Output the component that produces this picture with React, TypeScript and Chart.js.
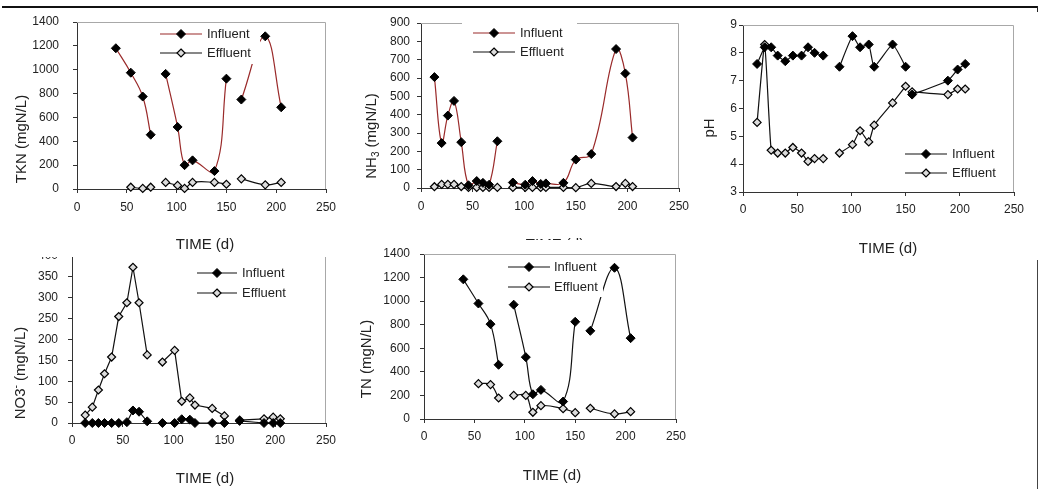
import { useEffect, useRef } from 'react';
import { Chart, registerables } from 'chart.js';

Chart.register(...registerables);

// ---------------- DATA ----------------
// null = break in the line (no sample / discontinuity)
const tknDays = [39, 54, 66, 74, 80, 89, 101, 108, 116, 138, 150, 158, 165, 189, 205];
const tknInfluent = [1180, 975, 775, 455, null, 965, 520, 200, 240, 150, 925, null, 750, 1280, 685];
const tknEffluent = [null, 15, 5, 15, null, 55, 30, 5, 55, 55, 40, null, 85, 35, 55];

const nh3Days = [13, 20, 26, 32, 39, 46, 54, 60, 66, 74, 80, 89, 101, 108, 116, 121, 138, 150, 165, 189, 198, 205];
const nh3Influent = [605, 245, 395, 475, 250, 15, 38, 28, 18, 255, null, 30, 18, 38, 22, 25, 28, 155, 185, 758, 625, 275];
const nh3Effluent = [7, 20, 20, 20, 8, 3, 3, 3, 3, 3, null, 3, 3, 3, 3, 3, 3, 2, 25, 8, 25, 8];

const phDays = [13, 20, 26, 32, 39, 46, 54, 60, 66, 74, 80, 89, 101, 108, 116, 121, 138, 150, 153, 156, 189, 198, 205];
const phInfluent = [7.6, 8.2, 8.2, 7.9, 7.7, 7.9, 7.9, 8.2, 8.0, 7.9, null, 7.5, 8.6, 8.2, 8.3, 7.5, 8.3, 7.5, null, 6.5, 7.0, 7.4, 7.6];
const phEffluent = [5.5, 8.3, 4.5, 4.4, 4.4, 4.6, 4.4, 4.1, 4.2, 4.2, null, 4.4, 4.7, 5.2, 4.8, 5.4, 6.2, 6.8, null, 6.6, 6.5, 6.7, 6.7];

const no3Days = [13, 20, 26, 32, 39, 46, 54, 60, 66, 74, 80, 89, 101, 108, 116, 121, 138, 150, 158, 165, 189, 198, 205];
const no3Influent = [0, 0, 0, 0, 0, 0, 2, 30, 27, 4, null, 0, 0, 9, 8, 0, 0, 0, null, 5, 0, 0, 0];
const no3Effluent = [19, 38, 79, 118, 158, 255, 288, 373, 288, 163, null, 146, 174, 52, 60, 43, 35, 17, null, 7, 10, 14, 10];

const tnDays = [39, 54, 66, 74, 80, 89, 101, 108, 116, 138, 150, 158, 165, 189, 205];
const tnInfluent = [1185, 980, 805, 460, null, 970, 525, 210, 247, 148, 825, null, 748, 1283, 686];
const tnEffluent = [null, 300, 292, 178, null, 200, 200, 57, 113, 88, 54, null, 91, 43, 62];

const seriesLabels = ['Influent', 'Effluent'];
const timeTicks = { min: 0, max: 250, step: 50 };
const xTitle = 'TIME (d)';

// ---------------- STYLE ----------------
const FONT = "'Liberation Sans', Arial, Helvetica, sans-serif";
const TEXT = '#222';
const RED = '#9a2a2a';
const BLACK = '#111';

type Part = { t: string; sub?: boolean; sup?: boolean };

type PanelSpec = {
  key: string;
  box: { left: number; top: number; width: number; height: number; clipTop?: number; clipBottom?: number };
  plot: { l: number; t: number; r: number; b: number };
  y: { min: number; max: number; step: number; pad: number };
  xPad: number;
  tension: number;
  influentColor: string;
  days: number[];
  influent: (number | null)[];
  effluent: (number | null)[];
  yTitle: Part[];
  yTitlePos: [number, number];
  xTitlePos: [number, number];
  legend: { lineX: number; lineW: number; textX: number; rows: [number, number]; box: [number, number, number, number] };
};

const panels: PanelSpec[] = [
  {
    key: 'tkn',
    box: { left: 0, top: 9, width: 345, height: 245 },
    plot: { l: 77, t: 22, r: 326, b: 189 },
    y: { min: 0, max: 1400, step: 200, pad: 14 },
    xPad: 7,
    tension: 0.4,
    influentColor: RED,
    days: tknDays,
    influent: tknInfluent,
    effluent: tknEffluent,
    yTitle: [{ t: 'TKN (mgN/L)' }],
    yTitlePos: [22, 139],
    xTitlePos: [205, 245],
    legend: { lineX: 160, lineW: 42, textX: 207, rows: [34, 53], box: [155, 24, 105, 40] },
  },
  {
    key: 'nh3',
    box: { left: 345, top: 9, width: 345, height: 245, clipBottom: 240 },
    plot: { l: 421, t: 23, r: 679, b: 188 },
    y: { min: 0, max: 900, step: 100, pad: 7 },
    xPad: 7,
    tension: 0.4,
    influentColor: RED,
    days: nh3Days,
    influent: nh3Influent,
    effluent: nh3Effluent,
    yTitle: [{ t: 'NH' }, { t: '3', sub: true }, { t: ' (mgN/L)' }],
    yTitlePos: [372, 136],
    xTitlePos: [555, 245],
    legend: { lineX: 473, lineW: 42, textX: 520, rows: [33, 52], box: [462, 19, 115, 45] },
  },
  {
    key: 'ph',
    box: { left: 690, top: 9, width: 340, height: 249 },
    plot: { l: 743, t: 25, r: 1014, b: 192 },
    y: { min: 3, max: 9, step: 1, pad: 2 },
    xPad: 6,
    tension: 0.15,
    influentColor: BLACK,
    days: phDays,
    influent: phInfluent,
    effluent: phEffluent,
    yTitle: [{ t: 'pH' }],
    yTitlePos: [710, 128],
    xTitlePos: [888, 249],
    legend: { lineX: 905, lineW: 42, textX: 952, rows: [154, 173], box: [900, 143, 105, 42] },
  },
  {
    key: 'no3',
    box: { left: 0, top: 248, width: 345, height: 240, clipTop: 257 },
    plot: { l: 72, t: 256, r: 326, b: 423 },
    y: { min: 0, max: 400, step: 50, pad: 10 },
    xPad: 6,
    tension: 0,
    influentColor: BLACK,
    days: no3Days,
    influent: no3Influent,
    effluent: no3Effluent,
    yTitle: [{ t: 'NO3' }, { t: '-', sup: true }, { t: ' (mgN/L)' }],
    yTitlePos: [21, 373],
    xTitlePos: [205, 479],
    legend: { lineX: 197, lineW: 40, textX: 242, rows: [273, 293], box: [190, 262, 105, 42] },
  },
  {
    key: 'tn',
    box: { left: 345, top: 240, width: 345, height: 245 },
    plot: { l: 424, t: 254, r: 676, b: 419 },
    y: { min: 0, max: 1400, step: 200, pad: 10 },
    xPad: 6,
    tension: 0.4,
    influentColor: BLACK,
    days: tnDays,
    influent: tnInfluent,
    effluent: tnEffluent,
    yTitle: [{ t: 'TN (mgN/L)' }],
    yTitlePos: [367, 359],
    xTitlePos: [552, 476],
    legend: { lineX: 508, lineW: 42, textX: 554, rows: [267, 287], box: [503, 256, 100, 41] },
  },
];

// ---------------- PLUGINS ----------------
function diamond(ctx: CanvasRenderingContext2D, x: number, y: number, r: number) {
  ctx.beginPath();
  ctx.moveTo(x, y - r);
  ctx.lineTo(x + r, y);
  ctx.lineTo(x, y + r);
  ctx.lineTo(x - r, y);
  ctx.closePath();
}

const framePlugin = {
  id: 'plotFrame',
  beforeDatasetsDraw(chart: any) {
    const { ctx, chartArea: a } = chart;
    ctx.save();
    ctx.strokeStyle = '#a8a8a8';
    ctx.lineWidth = 1;
    ctx.beginPath();
    ctx.moveTo(a.left, a.top + 0.5);
    ctx.lineTo(a.right - 0.5, a.top + 0.5);
    ctx.lineTo(a.right - 0.5, a.bottom);
    ctx.stroke();
    ctx.restore();
  },
};

const legendPlugin = {
  id: 'boxLegend',
  afterDatasetsDraw(chart: any, _args: any, opts: any) {
    const { ctx } = chart;
    const o = opts;
    ctx.save();
    ctx.fillStyle = '#fff';
    ctx.fillRect(o.box[0] - o.ox, o.box[1] - o.oy, o.box[2], o.box[3]);
    chart.data.datasets.forEach((ds: any, i: number) => {
      const y = o.rows[i] - o.oy;
      const x0 = o.lineX - o.ox;
      ctx.strokeStyle = ds.borderColor;
      ctx.lineWidth = ds.borderWidth;
      ctx.beginPath();
      ctx.moveTo(x0, y);
      ctx.lineTo(x0 + o.lineW, y);
      ctx.stroke();
      diamond(ctx, x0 + o.lineW / 2, y, ds.pointRadius);
      ctx.fillStyle = ds.pointBackgroundColor;
      ctx.fill();
      ctx.strokeStyle = ds.pointBorderColor;
      ctx.lineWidth = ds.pointBorderWidth;
      ctx.stroke();
      ctx.fillStyle = TEXT;
      ctx.font = `13px ${FONT}`;
      ctx.textBaseline = 'middle';
      ctx.textAlign = 'left';
      ctx.fillText(ds.label, o.textX - o.ox, y);
    });
    ctx.restore();
  },
};

const titlePlugin = {
  id: 'axisTitles',
  afterDraw(chart: any, _args: any, opts: any) {
    const { ctx } = chart;
    const drawRich = (parts: Part[], cx: number, cy: number, rotate: boolean) => {
      ctx.save();
      ctx.translate(cx, cy);
      if (rotate) ctx.rotate(-Math.PI / 2);
      ctx.fillStyle = TEXT;
      ctx.textBaseline = 'middle';
      ctx.textAlign = 'left';
      const fontFor = (p: Part) => `${p.sub || p.sup ? 10 : 15}px ${FONT}`;
      const widths = parts.map((p) => {
        ctx.font = fontFor(p);
        return ctx.measureText(p.t).width;
      });
      const total = widths.reduce((a, b) => a + b, 0);
      let x = -total / 2;
      parts.forEach((p, i) => {
        ctx.font = fontFor(p);
        const dy = p.sub ? 4 : p.sup ? -5 : 0;
        ctx.fillText(p.t, x, dy);
        x += widths[i];
      });
      ctx.restore();
    };
    drawRich(opts.yTitle, opts.yPos[0] - opts.ox, opts.yPos[1] - opts.oy, true);
    drawRich([{ t: opts.xTitle }], opts.xPos[0] - opts.ox, opts.xPos[1] - opts.oy, false);
  },
};

function makeDataset(label: string, days: number[], values: (number | null)[], color: string, filled: boolean, tension: number) {
  return {
    label,
    data: days.map((d, i) => ({ x: d, y: values[i] })),
    borderColor: color,
    borderWidth: 1.2,
    pointStyle: 'rectRot',
    pointRadius: filled ? 4.5 : 4,
    pointHoverRadius: filled ? 4.5 : 4,
    pointBackgroundColor: filled ? '#000' : '#dcdcdc',
    pointBorderColor: '#000',
    pointBorderWidth: filled ? 1 : 1.2,
    tension,
    spanGaps: false,
    fill: false,
    clip: false,
  };
}

const plainNumber = (v: any) => String(v);

function buildConfig(p: PanelSpec): any {
  const ox = p.box.left;
  const oy = p.box.top;
  return {
    type: 'line',
    data: {
      datasets: [
        makeDataset(seriesLabels[0], p.days, p.influent, p.influentColor, true, p.tension),
        makeDataset(seriesLabels[1], p.days, p.effluent, BLACK, false, p.tension),
      ],
    },
    options: {
      animation: false,
      responsive: false,
      maintainAspectRatio: false,
      events: [],
      layout: { padding: { top: p.plot.t - oy, right: ox + p.box.width - p.plot.r, left: 0, bottom: 0 } },
      plugins: {
        legend: { display: false },
        tooltip: { enabled: false },
        boxLegend: { ...p.legend, ox, oy },
        axisTitles: { yTitle: p.yTitle, yPos: p.yTitlePos, xTitle, xPos: p.xTitlePos, ox, oy },
      },
      scales: {
        x: {
          type: 'linear',
          min: timeTicks.min,
          max: timeTicks.max,
          ticks: { stepSize: timeTicks.step, padding: p.xPad, color: TEXT, font: { size: 12, family: FONT }, maxRotation: 0, autoSkip: false, callback: plainNumber },
          grid: { display: true, drawOnChartArea: false, drawTicks: true, tickLength: 4, color: '#333' },
          border: { display: true, color: '#333', width: 1 },
          afterFit: (s: any) => {
            s.height = oy + p.box.height - p.plot.b;
            s.paddingLeft = 0;
            s.paddingRight = 0;
          },
        },
        y: {
          type: 'linear',
          min: p.y.min,
          max: p.y.max,
          ticks: { stepSize: p.y.step, padding: p.y.pad, color: TEXT, font: { size: 12, family: FONT }, callback: plainNumber },
          grid: { display: true, drawOnChartArea: false, drawTicks: true, tickLength: 4, color: '#333' },
          border: { display: true, color: '#333', width: 1 },
          afterFit: (s: any) => {
            s.width = p.plot.l - ox;
            s.paddingTop = 0;
            s.paddingBottom = 0;
          },
        },
      },
    },
    plugins: [framePlugin, legendPlugin, titlePlugin],
  };
}

function Panel({ spec }: { spec: PanelSpec }) {
  const ref = useRef<HTMLCanvasElement | null>(null);
  useEffect(() => {
    if (!ref.current) return;
    const chart = new Chart(ref.current, buildConfig(spec));
    return () => chart.destroy();
  }, [spec]);
  const { left, top, width, height, clipTop, clipBottom } = spec.box;
  const visTop = clipTop ?? top;
  const visBottom = clipBottom ?? top + height;
  return (
    <div style={{ position: 'absolute', left, top: visTop, width, height: visBottom - visTop, overflow: 'hidden' }}>
      <canvas
        ref={ref}
        width={width}
        height={height}
        style={{ display: 'block', position: 'absolute', left: 0, top: top - visTop, width, height }}
      />
    </div>
  );
}

export default function App() {
  Chart.defaults.font.family = FONT;
  Chart.defaults.color = TEXT;
  return (
    <div style={{ position: 'absolute', left: 0, top: 0, width: 1039, height: 489, background: '#fff', overflow: 'hidden' }}>
      {panels.map((p) => (
        <Panel key={p.key} spec={p} />
      ))}
      <div style={{ position: 'absolute', left: 2, top: 6, width: 1036, height: 2, background: '#111' }} />
      <div style={{ position: 'absolute', left: 1037, top: 6, width: 1, height: 6, background: '#222' }} />
      <div style={{ position: 'absolute', left: 1037, top: 260, width: 1, height: 229, background: '#444' }} />
    </div>
  );
}
